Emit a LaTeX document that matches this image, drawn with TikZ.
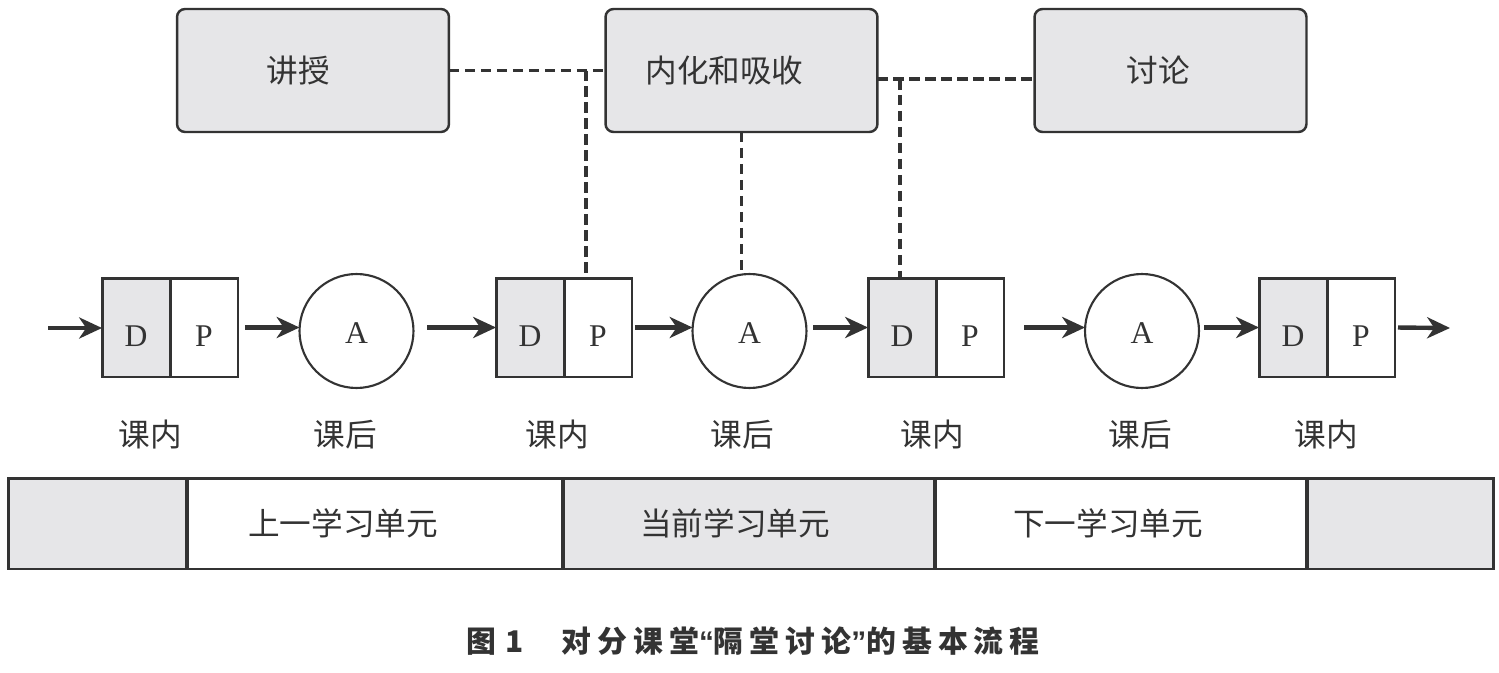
\documentclass[tikz,border=0pt]{standalone}
\usepackage{fontspec}
\setmainfont{Liberation Serif}
\newfontfamily\cjk{Noto Sans CJK SC}
\newfontfamily\qfont{Liberation Sans}
\newcommand\ck{\kern0.12cm}
\usetikzlibrary{arrows.meta}
\definecolor{ln}{HTML}{333333}
\definecolor{gf}{HTML}{E6E6E8}
\begin{document}
\begin{tikzpicture}[x=0.02cm,y=-0.02cm,
  every node/.style={outer sep=0pt,inner sep=0pt,text=ln},
  cjktext/.style={font=\cjk\fontsize{18pt}{20pt}\selectfont},
  topbox/.style={cjktext,draw=ln,fill=gf,line width=1.4pt,rounded corners=0.16cm,
    minimum width=5.44cm,minimum height=2.46cm},
  dbox/.style={draw=ln,fill=gf,line width=1.7pt,minimum width=1.36cm,minimum height=1.98cm,
    font=\fontsize{18pt}{20pt}\selectfont,text height=0.76cm,text depth=0pt},
  pbox/.style={dbox,fill=white},
  acirc/.style={circle,draw=ln,fill=white,line width=1.2pt,minimum size=2.28cm,
    font=\fontsize{18pt}{20pt}\selectfont,text height=0.5cm,text depth=0pt},
  seg/.style={cjktext,draw=ln,line width=1.7pt,minimum height=1.82cm},
  arr/.style={draw=ln,line width=2.5pt,-{Stealth[length=13pt,width=12pt,inset=4pt]}},
  dsh/.style={draw=ln,line width=1.9pt,dash pattern=on 0.21cm off 0.11cm}
]
\useasboundingbox (0,0) rectangle (1499,673);

% top boxes
\node[topbox] (jiang) at (313,70.5) {讲授\kern0.6cm};
\node[topbox] (nei) at (741.5,70.5) {内化和吸收\kern0.68cm};
\node[topbox] (tao) at (1170.5,70.5) {讨论\kern0.48cm};

% D/P boxes
\node[dbox] (D1) at (136,327.5) {D};
\node[pbox] (P1) at (204,327.5) {P};
\node[dbox] (D2) at (530,327.5) {D};
\node[pbox] (P2) at (598,327.5) {P};
\node[dbox] (D3) at (902,327.5) {D};
\node[pbox] (P3) at (970,327.5) {P};
\node[dbox] (D4) at (1293,327.5) {D};
\node[pbox] (P4) at (1361,327.5) {P};

% circles
\node[acirc] (A1) at (356.5,331) {A};
\node[acirc] (A2) at (749.5,331) {A};
\node[acirc] (A3) at (1142,331) {A};

% arrows
\coordinate (in) at (48,328);
\coordinate (out) at (1450,328);
\draw[arr] (in) -- (in -| D1.west);
\draw[arr,shorten <=7*0.02cm] (P1.east) -- (P1.east -| A1.west);
\draw[arr,shorten <=14*0.02cm] (A1.east |- P1.east) -- (D2.west);
\draw[arr,shorten <=3*0.02cm] (P2.east) -- (P2.east -| A2.west);
\draw[arr,shorten <=7*0.02cm] (A2.east |- P2.east) -- (D3.west);
\draw[arr,shorten <=20*0.02cm] (P3.east) -- (P3.east -| A3.west);
\draw[arr,shorten <=5*0.02cm] (A3.east |- P3.east) -- (D4.west);
\draw[arr,shorten <=3*0.02cm] (P4.east) -- (out);

% dashed connectors
\coordinate (b1) at (586,70.5);
\coordinate (b2) at (900,79);
\draw[dsh] (jiang.east) -- (nei.west);
\draw[dsh] (b1) -- (b1 |- P2.north);
\draw[dsh] (nei.south) -- (nei.south |- A2.north);
\draw[dsh] (b2 -| nei.east) -- (b2 -| tao.west);
\draw[dsh] (b2) -- (b2 |- D3.north);

% labels
\node[cjktext] (l1) at (150,435) {课内};
\node[cjktext] (l2) at (345,435) {课后};
\node[cjktext] (l3) at (557,435) {课内};
\node[cjktext] (l4) at (742,435) {课后};
\node[cjktext] (l5) at (932,435) {课内};
\node[cjktext] (l6) at (1140,435) {课后};
\node[cjktext] (l7) at (1326,435) {课内};

% bottom bar
\node[seg,fill=gf,minimum width=3.58cm] (s1) at (97.5,523.5) {};
\node[seg,fill=white,minimum width=7.52cm] (s2) at (375,523.5) {上一学习单元\kern1.28cm};
\node[seg,fill=gf,minimum width=7.44cm] (s3) at (749,523.5) {当前学习单元\kern0.56cm};
\node[seg,fill=white,minimum width=7.44cm] (s4) at (1121,523.5) {下一学习单元\kern0.52cm};
\node[seg,fill=gf,minimum width=3.74cm] (s5) at (1400.5,523.5) {};

% caption
\node[font=\cjk\bfseries\fontsize{17pt}{19pt}\selectfont,anchor=west] (cap) at (466,641)
  {图\kern0.2cm 1\kern0.75cm 对\ck 分\ck 课\ck 堂{\qfont\bfseries“}隔\ck 堂\ck 讨\ck 论{\qfont\bfseries”}的\ck 基\ck 本\ck 流\ck 程};
\end{tikzpicture}
\end{document}
